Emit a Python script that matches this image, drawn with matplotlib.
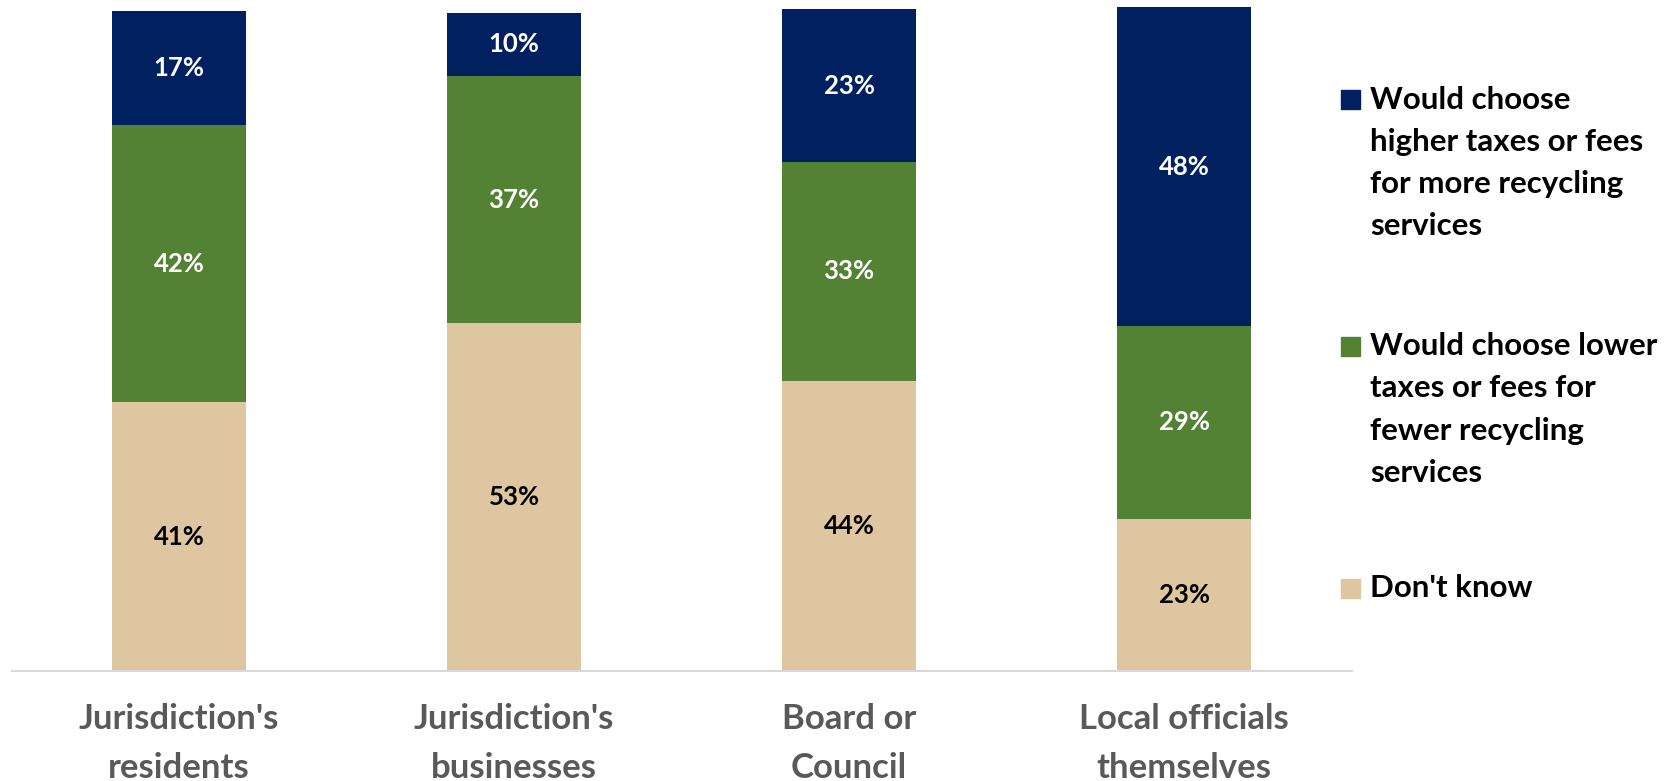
import numpy as np
import matplotlib.pyplot as plt
from matplotlib.patches import Rectangle

# Categories and series (percent of respondents)
categories = ["Jurisdiction's\nresidents", "Jurisdiction's\nbusinesses", "Board or\nCouncil", "Local officials\nthemselves"]
dont_know = [40.6, 52.6, 43.9, 23.0]
lower_taxes = [41.9, 37.3, 33.0, 29.2]
higher_taxes = [17.2, 9.6, 23.2, 48.1]

series_names = ["Would choose\nhigher taxes or fees\nfor more recycling\nservices",
                "Would choose lower\ntaxes or fees for\nfewer recycling\nservices",
                "Don't know"]

navy = '#002060'
green = '#548235'
tan = '#DEC7A0'

plt.rcParams['font.family'] = ['Lato', 'DejaVu Sans']

fig = plt.figure(figsize=(16.79, 7.81), dpi=100)
ax = fig.add_axes([0.007, 0.1408, 0.798, 0.859])

x = np.arange(len(categories))
w = 0.4
b1 = ax.bar(x, dont_know, w, color=tan)
b2 = ax.bar(x, lower_taxes, w, bottom=dont_know, color=green)
bottom3 = np.array(dont_know) + np.array(lower_taxes)
b3 = ax.bar(x, higher_taxes, w, bottom=bottom3, color=navy)

# labels in the middle of each segment
for bars, vals, col in [(b1, dont_know, 'black'), (b2, lower_taxes, 'white'), (b3, higher_taxes, 'white')]:
    for rect, v in zip(bars, vals):
        ax.text(rect.get_x() + rect.get_width() / 2, rect.get_y() + rect.get_height() / 2,
                f"{v:.0f}%", ha='center', va='center', color=col,
                fontsize=18.5, fontweight='bold')

ax.set_xlim(-0.5, 3.5)
ax.set_ylim(0, 101.4)
ax.set_yticks([])
ax.set_xticks(x)
ax.set_xticklabels(categories, fontsize=25, fontweight='bold', color='#595959', linespacing=1.66)
ax.tick_params(axis='x', length=0, pad=23)
for s in ['top', 'right', 'left']:
    ax.spines[s].set_visible(False)
ax.spines['bottom'].set_color('#D9D9D9')
ax.spines['bottom'].set_linewidth(1.5)

# legend drawn by hand so the marker sits on the first text line
legend_colors = [navy, green, tan]
legend_y = [99.6, 346, 588]
H = 781
for name, col, yy in zip(series_names, legend_colors, legend_y):
    fig.add_artist(Rectangle((1341 / 1679, 1 - (yy + 9.5) / H), 19 / 1679, 19 / H,
                             transform=fig.transFigure, color=col))
    fig.text(1370 / 1679, 1 - (yy - 14) / H, name, ha='left', va='top',
             fontsize=22.5, fontweight='bold', color='black', linespacing=1.62)

fig.savefig('out.png', dpi=100)
